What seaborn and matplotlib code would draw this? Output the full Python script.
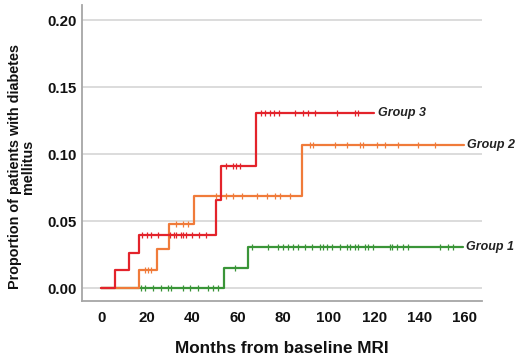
import numpy as np
import pandas as pd
import matplotlib
matplotlib.use("Agg")
import matplotlib.pyplot as plt
import seaborn as sns

# Step (event) times and cumulative proportions
g3_times = [0, 6, 12.2, 16.6, 50.6, 52.6, 67.8, 120]
g3_vals = [0.0, 0.014, 0.0266, 0.0396, 0.0657, 0.0913, 0.1308, 0.1308]
g2_times = [0, 16.6, 24.5, 29.8, 40.8, 88.4, 159.5]
g2_vals = [0.0, 0.0134, 0.029, 0.048, 0.0687, 0.1067, 0.1067]
g1_times = [0, 54.0, 64.3, 159.0]
g1_vals = [0.0, 0.0154, 0.0308, 0.0308]

# Censored times
g3_cens = [18, 20, 22, 25, 30, 32, 33, 35, 36, 37, 40, 43, 46,
           55, 58, 59, 61,
           70, 72, 74, 76, 78, 85, 88.6, 90.9, 94, 103.7, 111.6, 113]
g2_cens = [19, 20.5, 22, 33, 36, 38,
           50.6, 55, 58, 61.7, 68.3, 72.7, 76.3, 78.6, 83,
           91.8, 93.2, 102.8, 108, 113.8, 115.3, 121.1, 124.8, 130.7, 139.5, 146.8]
g1_cens = [17.6, 19, 22.7, 26.4, 29.3, 30.8, 35.9, 38.9, 42.5, 47, 49.2, 51.4,
           58.7,
           66.1, 73.4, 77.8, 80, 82.2, 84.4, 86.6, 89.6, 92.5, 96.2, 97.6, 99.1,
           101.3, 105, 107.9, 109.4, 111.6, 113, 116, 117.5, 119.7, 127, 127.8,
           130, 132.9, 135.1, 149, 152.7, 154.9]

group_names = ["Group 1", "Group 2", "Group 3"]
colors = {"Group 1": "#3a9538", "Group 2": "#f07b3a", "Group 3": "#e3232b"}

series = {
    "Group 1": (g1_times, g1_vals, g1_cens),
    "Group 2": (g2_times, g2_vals, g2_cens),
    "Group 3": (g3_times, g3_vals, g3_cens),
}

FAM = ["Liberation Sans", "DejaVu Sans"]

fig = plt.figure(figsize=(5.2, 3.59), dpi=100)
ax = fig.add_axes([0.158, 0.1616, 0.769, 0.8244])

sns.set_style("white")
plt.rcParams["font.family"] = FAM

for name in group_names:
    t, v, c = series[name]
    df = pd.DataFrame({"t": t, "v": v})
    sns.lineplot(data=df, x="t", y="v", ax=ax, color=colors[name],
                 drawstyle="steps-post", linewidth=1.6, estimator=None,
                 sort=False, zorder=3)
    idx = np.searchsorted(np.array(t), np.array(c), side="right") - 1
    cy = np.array(v)[idx]
    cdf = pd.DataFrame({"t": c, "v": cy})
    sns.scatterplot(data=cdf, x="t", y="v", ax=ax, marker="|", s=16,
                    color=colors[name], linewidth=0.9, zorder=4)
    ax.text(t[-1] + 1.5, v[-1], name, fontsize=9, fontstyle="italic",
            fontweight="bold", color="#222222", va="center", ha="left",
            family=FAM)

ax.set_xlim(-8.5, 167.5)
ax.set_ylim(-0.0095, 0.2115)
ax.set_xticks(range(0, 161, 20))
ax.set_yticks([0.0, 0.05, 0.10, 0.15, 0.20])
ax.set_yticklabels(["0.00", "0.05", "0.10", "0.15", "0.20"])
ax.yaxis.grid(True, color="#d9d9d9", linewidth=1.3, zorder=0)
ax.set_axisbelow(True)

for s in ["top", "right"]:
    ax.spines[s].set_visible(False)
for s in ["left", "bottom"]:
    ax.spines[s].set_color("#a6a6a6")
    ax.spines[s].set_linewidth(1.3)

ax.tick_params(axis="both", length=0, labelsize=10.8, colors="#111111")
ax.tick_params(axis="x", pad=7)
ax.tick_params(axis="y", pad=4)
for lab in ax.get_xticklabels() + ax.get_yticklabels():
    lab.set_fontweight("bold")
    lab.set_family(FAM)

ax.set_xlabel("Months from baseline MRI", fontsize=12.3, fontweight="bold",
              color="#111111", family=FAM)
ax.set_ylabel("Proportion of patients with diabetes\nmellitus", fontsize=10.4,
              fontweight="bold", color="#111111", linespacing=0.95,
              family=FAM)
ax.xaxis.set_label_coords(0.5, -0.134)
ax.yaxis.set_label_coords(-0.118, 0.453)

legend = ax.get_legend()
if legend is not None:
    legend.remove()

fig.savefig("out.png", dpi=100)
